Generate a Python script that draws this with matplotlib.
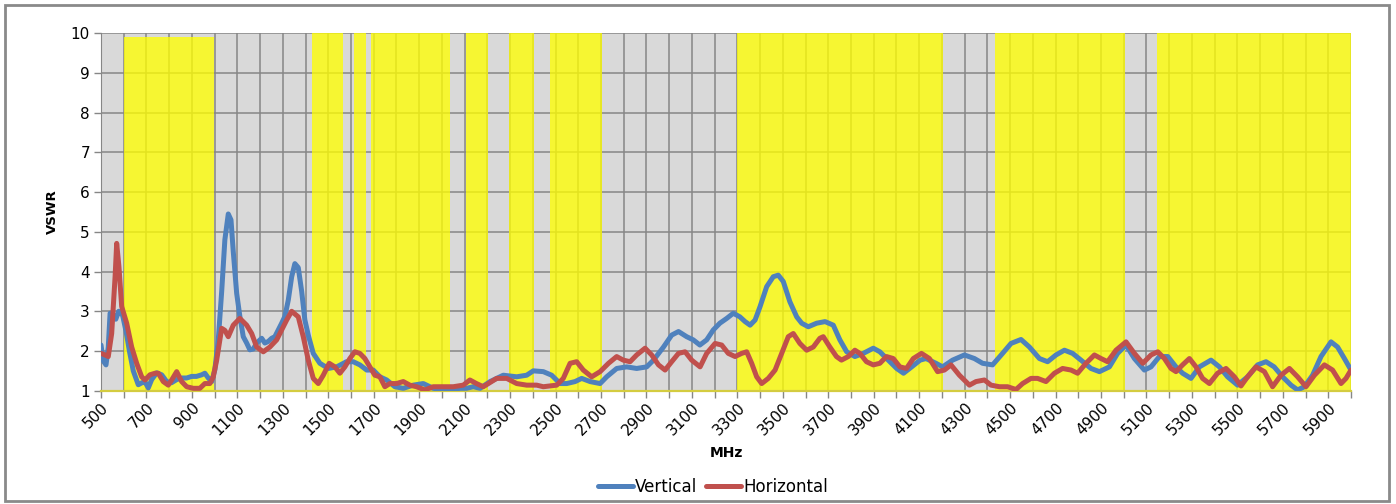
import matplotlib
matplotlib.use("Agg")
import matplotlib.pyplot as plt
from matplotlib.patches import Rectangle

plt.rcParams['font.family'] = ['DejaVu Sans']

# band limits (MHz) and band heights
band_start = [600, 1427, 1615, 1690, 2105, 2297, 2475, 3297, 4435, 5145]
band_end = [995, 1565, 1665, 2035, 2203, 2403, 2704, 4204, 5005, 6000]
band_top = [9.9, 10, 10, 10, 10, 10, 10, 10, 10, 10]

# Vertical polarisation
vert_f = [500, 510, 522, 532, 540, 555, 565, 578, 595, 610, 625, 642, 664, 680, 693, 708,
          723, 745, 767, 789, 810, 833, 855, 877, 899, 920, 943, 957, 972, 987, 1001,
          1016, 1031, 1045, 1060, 1072, 1082, 1097, 1111, 1126, 1141, 1155, 1170, 1185,
          1207, 1221, 1236, 1251, 1265, 1280, 1295, 1309, 1324, 1339, 1353, 1368, 1383,
          1397, 1412, 1434, 1463, 1500, 1537, 1580, 1610, 1639, 1669, 1698, 1727, 1757,
          1793, 1830, 1874, 1918, 1962, 2006, 2050, 2080, 2108, 2138, 2168, 2212, 2270,
          2329, 2373, 2402, 2446, 2483, 2520, 2549, 2586, 2615, 2652, 2696, 2725, 2769,
          2813, 2857, 2901, 2931, 2975, 3011, 3041, 3077, 3106, 3135, 3165, 3194, 3223,
          3253, 3282, 3311, 3334, 3356, 3378, 3400, 3429, 3458, 3480, 3502, 3531, 3561,
          3583, 3612, 3649, 3686, 3722, 3751, 3781, 3817, 3854, 3898, 3927, 3964, 4001,
          4031, 4067, 4104, 4130, 4174, 4203, 4247, 4299, 4343, 4379, 4423, 4467, 4504,
          4548, 4585, 4629, 4665, 4702, 4739, 4775, 4812, 4856, 4893, 4937, 4973, 5010,
          5047, 5091, 5120, 5157, 5194, 5230, 5259, 5296, 5333, 5384, 5421, 5457, 5501,
          5545, 5589, 5626, 5662, 5699, 5736, 5765, 5795, 5831, 5868, 5912, 5941, 5971, 6000]
vert_v = [2.15, 1.75, 1.65, 2.1, 2.95, 2.9, 2.8, 3.0, 2.9, 2.5, 2.0, 1.5, 1.15, 1.2, 1.23, 1.07,
          1.28, 1.45, 1.4, 1.23, 1.2, 1.28, 1.32, 1.32, 1.36, 1.36, 1.4, 1.44, 1.32, 1.23, 1.53,
          2.28, 3.5, 4.8, 5.45, 5.3, 4.5, 3.45, 2.87, 2.36, 2.2, 2.03, 2.05, 2.2,
          2.32, 2.2, 2.24, 2.32, 2.36, 2.53, 2.7, 2.87, 3.28, 3.87, 4.2, 4.1, 3.5,
          2.78, 2.4, 1.94, 1.69, 1.56, 1.6, 1.73, 1.73, 1.65, 1.52, 1.52, 1.35, 1.27,
          1.1, 1.06, 1.14, 1.18, 1.06, 1.02, 1.03, 1.06, 1.06, 1.1, 1.06, 1.23, 1.39,
          1.35, 1.39, 1.5, 1.48, 1.39, 1.18, 1.18, 1.23, 1.31, 1.23, 1.18, 1.35, 1.56,
          1.6, 1.56, 1.6, 1.77, 2.1, 2.4, 2.49, 2.36, 2.28, 2.15, 2.28, 2.53, 2.7,
          2.82, 2.95, 2.86, 2.74, 2.65, 2.78, 3.12, 3.62, 3.87, 3.91, 3.75, 3.24, 2.86,
          2.7, 2.61, 2.7, 2.74, 2.65, 2.28, 1.98, 1.86, 1.94, 2.07, 1.98, 1.77, 1.56,
          1.44, 1.6, 1.77, 1.81, 1.69, 1.6, 1.77, 1.9, 1.81, 1.69, 1.65, 1.94, 2.19,
          2.29, 2.1, 1.81, 1.73, 1.9, 2.02, 1.94, 1.77, 1.56, 1.48, 1.6, 1.94, 2.15,
          1.81, 1.52, 1.6, 1.86, 1.86, 1.6, 1.44, 1.31, 1.6, 1.77, 1.6, 1.35, 1.14,
          1.35, 1.65, 1.73, 1.6, 1.35, 1.14, 1.02, 1.1, 1.39, 1.86, 2.23, 2.1, 1.81, 1.52]

# Horizontal polarisation
hor_f = [500, 518, 532, 547, 562, 569, 579, 591, 613, 635, 657, 679, 694, 715, 738, 752,
         774, 796, 811, 833, 855, 877, 906, 935, 957, 979, 994, 1009, 1031, 1045, 1060,
         1082, 1111, 1141, 1163, 1185, 1214, 1243, 1273, 1295, 1317, 1339, 1368, 1390,
         1412, 1434, 1456, 1478, 1504, 1529, 1551, 1573, 1595, 1617, 1639, 1661, 1683,
         1705, 1727, 1749, 1771, 1800, 1830, 1859, 1888, 1925, 1962, 2006, 2050, 2094,
         2123, 2152, 2182, 2241, 2285, 2329, 2373, 2417, 2446, 2505, 2534, 2564, 2593,
         2622, 2659, 2696, 2733, 2769, 2798, 2828, 2857, 2894, 2923, 2953, 2982, 3011,
         3041, 3070, 3099, 3136, 3165, 3202, 3231, 3260, 3290, 3319, 3341, 3363, 3385,
         3407, 3436, 3466, 3495, 3524, 3546, 3575, 3605, 3634, 3663, 3678, 3707, 3736,
         3758, 3788, 3817, 3839, 3868, 3898, 3927, 3956, 3986, 4015, 4044, 4074, 4110,
         4145, 4181, 4211, 4240, 4277, 4321, 4350, 4387, 4416, 4453, 4489, 4526, 4555,
         4592, 4621, 4658, 4695, 4731, 4768, 4797, 4834, 4871, 4900, 4929, 4966, 5010,
         5047, 5084, 5120, 5150, 5179, 5208, 5230, 5259, 5289, 5318, 5347, 5377, 5413,
         5450, 5487, 5516, 5545, 5582, 5619, 5655, 5692, 5729, 5765, 5802, 5839, 5883,
         5919, 5956, 5978, 6000]
hor_v = [1.94, 1.9, 1.86, 2.44, 3.87, 4.71, 4.12, 3.12, 2.7, 2.1, 1.69, 1.35, 1.27, 1.4, 1.44, 1.44,
         1.23, 1.14, 1.27, 1.48, 1.23, 1.1, 1.06, 1.06, 1.18, 1.18, 1.35, 1.77, 2.57, 2.52, 2.36,
         2.65, 2.82, 2.65, 2.44, 2.1, 1.98, 2.1, 2.28, 2.53, 2.78, 3.0, 2.86, 2.36,
         1.77, 1.31, 1.18, 1.39, 1.69, 1.6, 1.44, 1.6, 1.81, 1.98, 1.94, 1.81, 1.6,
         1.39, 1.35, 1.1, 1.18, 1.18, 1.23, 1.14, 1.1, 1.02, 1.1, 1.1, 1.1, 1.14,
         1.27, 1.18, 1.1, 1.31, 1.31, 1.18, 1.14, 1.14, 1.1, 1.14, 1.31, 1.69, 1.73,
         1.52, 1.35, 1.48, 1.69, 1.86, 1.77, 1.73, 1.9, 2.07, 1.9, 1.65, 1.52, 1.73,
         1.94, 1.98, 1.77, 1.6, 1.94, 2.19, 2.15, 1.94, 1.86, 1.94, 1.98, 1.69, 1.35,
         1.18, 1.31, 1.52, 1.94, 2.36, 2.44, 2.19, 2.02, 2.1, 2.32, 2.36, 2.1, 1.86,
         1.77, 1.86, 2.02, 1.94, 1.73, 1.65, 1.69, 1.86, 1.81, 1.6, 1.56, 1.81, 1.94,
         1.81, 1.48, 1.52, 1.65, 1.39, 1.14, 1.23, 1.27, 1.14, 1.1, 1.1, 1.03, 1.18,
         1.31, 1.31, 1.23, 1.44, 1.56, 1.52, 1.44, 1.69, 1.9, 1.81, 1.73, 2.02, 2.23,
         1.94, 1.69, 1.9, 1.98, 1.81, 1.56, 1.48, 1.65, 1.81, 1.6, 1.31, 1.18, 1.44,
         1.56, 1.35, 1.12, 1.35, 1.6, 1.48, 1.1, 1.39, 1.56, 1.35, 1.1, 1.39, 1.65,
         1.52, 1.18, 1.31, 1.52]

x_ticks = list(range(500, 6001, 100))
x_labels = [str(t) if (t - 500) % 200 == 0 and t < 6000 else '' for t in x_ticks]

fig = plt.figure(figsize=(13.96, 5.04), dpi=100)
ax = fig.add_axes([101 / 1396, 1 - 390.7 / 504, 1250 / 1396, 357.4 / 504])
ax.set_facecolor('#d9d9d9')

# yellow bands
for s, e, t in zip(band_start, band_end, band_top):
    ax.fill_between([s, e], 1, t, color='#ffff00', alpha=0.77, lw=0, zorder=1)

ax.plot(vert_f, vert_v, color='#4f81bd', lw=3.6, solid_joinstyle='round',
        solid_capstyle='round', label='Vertical', zorder=3)
ax.plot(hor_f, hor_v, color='#c0504d', lw=3.6, solid_joinstyle='round',
        solid_capstyle='round', label='Horizontal', zorder=4)

ax.set_xlim(500, 6000)
ax.set_ylim(1, 10)
ax.set_xticks(x_ticks)
ax.set_xticklabels(x_labels, rotation=45, ha='right', va='top', rotation_mode='anchor')
ax.set_yticks(range(1, 11))
ax.set_axisbelow(True)
ax.grid(True, color='#868686', lw=1.1)
ax.tick_params(axis='both', length=5, width=1, color='#868686', labelsize=11, pad=3)
ax.tick_params(axis='x', pad=2)

for side in ['top', 'right']:
    ax.spines[side].set_visible(False)
ax.spines['left'].set_color('#868686')
ax.spines['bottom'].set_color('#d4cc40')
ax.spines['bottom'].set_linewidth(1.6)

ax.set_ylabel('VSWR', fontsize=9.5, fontweight='bold')
ax.yaxis.set_label_coords(-0.034, 0.5)
fig.text(726 / 1396, 1 - 453 / 504, 'MHz', ha='center', va='center',
         fontsize=10, fontweight='bold')

fig.legend(loc='center', bbox_to_anchor=(713 / 1396, 1 - 487 / 504), ncol=2,
           frameon=False, fontsize=12, handlelength=2.1, handletextpad=0.15,
           columnspacing=0.5)

# outer frame
fig.patches.append(Rectangle((5 / 1396, 3 / 504), 1384 / 1396, 496 / 504,
                             transform=fig.transFigure, fill=False,
                             edgecolor='#8a8a8a', lw=2))

fig.savefig('out.png', dpi=100)
